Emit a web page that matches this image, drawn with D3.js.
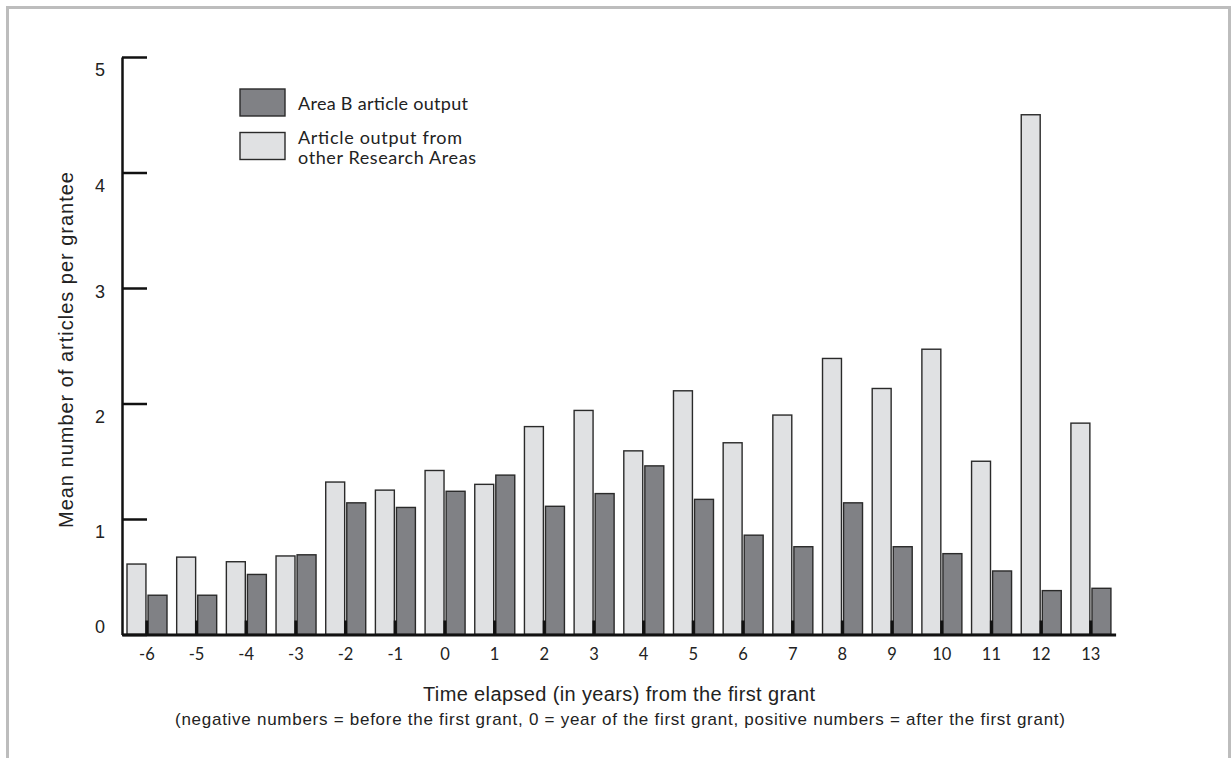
<!DOCTYPE html>
<html><head><meta charset="utf-8">
<script src="https://cdn.jsdelivr.net/npm/d3@7"></script>
<style>
html,body{margin:0;padding:0;background:#fff;}
svg{display:block;}
</style></head>
<body>
<svg id="chart" width="1232" height="758"></svg>
<script>
const years = [-6,-5,-4,-3,-2,-1,0,1,2,3,4,5,6,7,8,9,10,11,12,13];
const otherAreas = [0.61,0.67,0.63,0.68,1.32,1.25,1.42,1.30,1.80,1.94,1.59,2.11,1.66,1.90,2.39,2.13,2.47,1.50,4.50,1.83];
const areaB =      [0.34,0.34,0.52,0.69,1.14,1.10,1.24,1.38,1.11,1.22,1.46,1.17,0.86,0.76,1.14,0.76,0.70,0.55,0.38,0.40];
const yTicks = [0,1,2,3,4,5];
const seriesKeys = ["other","areaB"];
const legendLabels = [["Area B article output"],["Article output from","other Research Areas"]];

const svg = d3.select("#chart");
const fontA = "'Liberation Sans', Arial, sans-serif";
const fontB = "Lato, 'Open Sans', sans-serif";

// frame
svg.append("path").attr("d","M7.5,758 V7.5 H1229.5 V758")
  .attr("fill","none").attr("stroke","#bdbdbd").attr("stroke-width",3);

const x = d3.scaleBand().domain(years).range([122,1115.6]).padding(0);
const xs = d3.scaleBand().domain(seriesKeys).range([5,45]).paddingInner(0.1);
const y = d3.scaleLinear().domain([0,5]).range([634.5,57]);

const fills = {other:"#e0e1e3", areaB:"#808185"};
const data = years.map((yr,i)=>({yr, other:otherAreas[i], areaB:areaB[i]}));

const g = svg.append("g");
g.selectAll("g.grp").data(data).join("g").attr("class","grp")
  .attr("transform",d=>`translate(${x(d.yr)},0)`)
  .selectAll("rect").data(d=>seriesKeys.map(k=>({k,v:d[k]}))).join("rect")
  .attr("x",d=>xs(d.k)).attr("width",xs.bandwidth())
  .attr("y",d=>y(d.v)).attr("height",d=>y(0)-y(d.v))
  .attr("fill",d=>fills[d.k]).attr("stroke","#2a2a2a").attr("stroke-width",1.4);

// x axis
const xAxis = svg.append("g").attr("transform",`translate(0,${y(0)})`)
  .call(d3.axisBottom(x).tickSize(-14).tickSizeOuter(0).tickPadding(14));
xAxis.select(".domain").attr("stroke","#111").attr("stroke-width",3);
xAxis.selectAll(".tick line").attr("stroke","#111").attr("stroke-width",3);
xAxis.selectAll(".tick text").attr("font-family",fontB).attr("font-size",16.5).attr("fill","#222");

// y axis
const yAxis = svg.append("g").attr("transform",`translate(122,0)`)
  .call(d3.axisLeft(y).tickValues(yTicks).tickFormat(d3.format("d")).tickSize(-25).tickSizeOuter(0).tickPadding(17));
yAxis.select(".domain").attr("stroke","#111").attr("stroke-width",2.5);
yAxis.selectAll(".tick line").attr("stroke","#111").attr("stroke-width",2.5);
yAxis.selectAll(".tick text").attr("font-family",fontA).attr("font-size",18).attr("fill","#222")
  .attr("dy",d=> d===0 ? "-0.1em" : d===3 ? "0.5em" : "1.05em");

// axis titles
svg.append("text").attr("transform","translate(73,350) rotate(-90)").attr("text-anchor","middle")
  .attr("font-family",fontA).attr("font-size",20).attr("fill","#222")
  .attr("textLength",356).attr("lengthAdjust","spacing")
  .text("Mean number of articles per grantee");
svg.append("text").attr("x",619).attr("y",701).attr("text-anchor","middle")
  .attr("font-family",fontA).attr("font-size",20).attr("fill","#222")
  .attr("textLength",392).attr("lengthAdjust","spacing")
  .text("Time elapsed (in years) from the first grant");
svg.append("text").attr("x",620).attr("y",725).attr("text-anchor","middle")
  .attr("font-family",fontA).attr("font-size",17).attr("fill","#222")
  .attr("textLength",890).attr("lengthAdjust","spacing")
  .text("(negative numbers = before the first grant, 0 = year of the first grant, positive numbers = after the first grant)");

// legend
const legendKeys = ["areaB","other"];
const legendWidths = [[170],[164,178]];
const lg = svg.append("g").attr("transform","translate(240,89)");
legendKeys.forEach((k,i)=>{
  const row = lg.append("g").attr("transform",`translate(0,${i*43.5})`);
  row.append("rect").attr("x",0).attr("y",0).attr("width",45).attr("height",27)
    .attr("fill",fills[k]).attr("stroke","#2a2a2a").attr("stroke-width",1.4);
  legendLabels[i].forEach((t,j)=>{
    row.append("text").attr("x",58).attr("y",21 + j*20 - (legendLabels[i].length>1?10:0))
      .attr("font-family",fontB).attr("font-size",18).attr("fill","#222")
      .attr("textLength",legendWidths[i][j]).attr("lengthAdjust","spacing").text(t);
  });
});
</script>
</body></html>
